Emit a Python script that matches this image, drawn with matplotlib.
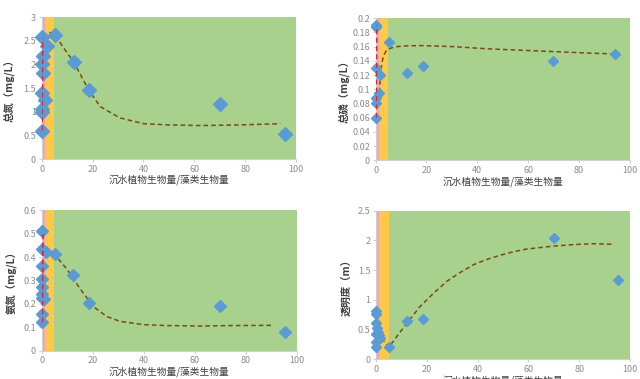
import matplotlib
matplotlib.use("Agg")
import matplotlib.pyplot as plt
from matplotlib.ticker import FuncFormatter

plt.rcParams['font.family'] = ['Noto Sans CJK SC', 'DejaVu Sans']

# colours of the zones and marks
PINK = '#F3A3B8'
ORANGE = '#FFC947'
GREEN = '#A9D18E'
BLUE = '#5B9BD5'
BROWN = '#7A4A14'
RED = '#E0262B'

xlab = '沉水植物生物量/藻类生物量'
zone_edges = [0, 1.2, 5, 100]

# total nitrogen
tn_x = [0, 2.2, 5.2, 0.4, 0.1, 0.4, 0.2, 1.4, 0.2, 0.1, 0, 12.6, 18.5, 70.2, 95.5]
tn_y = [2.58, 2.38, 2.63, 2.18, 2.01, 1.82, 1.39, 1.24, 1.05, 1.0, 0.6, 2.06, 1.46, 1.16, 0.54]
tn_red_x = [0.2, 0.25, 0.3, 0.35, 0.4]
tn_red_y = [0.6, 1.1, 1.6, 2.1, 2.55]
tn_fit_x = [3, 5.2, 8, 12.6, 18.5, 23, 30.8, 40, 49, 62, 75, 85, 93.7]
tn_fit_y = [2.68, 2.64, 2.4, 2.05, 1.46, 1.11, 0.87, 0.75, 0.725, 0.71, 0.72, 0.735, 0.75]

# total phosphorus
tp_x = [0, 0.1, 5.2, 0, 1.8, 1.4, 0.1, 0, 0, 12.5, 18.5, 69.6, 94.2]
tp_y = [0.1906, 0.187, 0.167, 0.1296, 0.1197, 0.0944, 0.087, 0.081, 0.06, 0.123, 0.133, 0.1394, 0.1498]
tp_red_x = [0.2, 0.25, 0.3, 0.35, 0.4]
tp_red_y = [0.06, 0.09, 0.12, 0.155, 0.19]
tp_fit_x = [1.3, 1.8, 2.4, 3.2, 4.3, 6, 8.3, 12, 17.4, 30.5, 43.6, 56.7, 69.9, 83, 93.4]
tp_fit_y = [0.085, 0.115, 0.137, 0.148, 0.155, 0.158, 0.16, 0.161, 0.1615, 0.16, 0.157, 0.155, 0.153, 0.151, 0.1498]

# ammonia nitrogen
nh_x = [0, 0, 1.6, 5.2, 0, 0.2, 0, 0, 0, 1.0, 0, 0, 12.2, 18.4, 70, 95.3]
nh_y = [0.511, 0.434, 0.42, 0.412, 0.361, 0.305, 0.271, 0.243, 0.223, 0.221, 0.156, 0.122, 0.325, 0.204, 0.192, 0.0815]
nh_red_x = [0.3, 0.35, 0.4, 0.5, 0.6]
nh_red_y = [0.12, 0.22, 0.32, 0.42, 0.51]
nh_fit_x = [1.6, 5.2, 9.8, 15, 20.3, 25.5, 30.7, 39.9, 49, 62, 75, 90.8]
nh_fit_y = [0.427, 0.41, 0.35, 0.266, 0.188, 0.146, 0.125, 0.111, 0.107, 0.105, 0.107, 0.108]

# transparency
sd_x = [0, 0.1, 0, 0.3, 0.6, 0, 1.0, 1.6, 0, 0, 5.1, 12.3, 18.4, 70.2, 95.4]
sd_y = [0.81, 0.77, 0.605, 0.52, 0.46, 0.43, 0.41, 0.35, 0.29, 0.2, 0.2, 0.64, 0.67, 2.04, 1.33]
sd_fit_x = [0.8, 2, 3.5, 5.1, 6.2, 12.1, 17.3, 22.6, 27.8, 33.1, 38.3, 43.6, 48.8, 54.1, 59.3, 64.6, 69.8, 77.7, 85.6, 93.4]
sd_fit_y = [0.47, 0.38, 0.28, 0.2, 0.27, 0.605, 0.886, 1.11, 1.31, 1.46, 1.59, 1.68, 1.75, 1.81, 1.855, 1.88, 1.905, 1.93, 1.945, 1.935]

panels = [
    dict(pos=[0.065, 0.58, 0.398, 0.375], x=tn_x, y=tn_y, rx=tn_red_x, ry=tn_red_y,
         fx=tn_fit_x, fy=tn_fit_y, ylim=3, step=0.5, ylabel='总氮（mg/L）', ms=7.5, lpad=6),
    dict(pos=[0.587, 0.577, 0.397, 0.375], x=tp_x, y=tp_y, rx=tp_red_x, ry=tp_red_y,
         fx=tp_fit_x, fy=tp_fit_y, ylim=0.2, step=0.02, ylabel='总磷（mg/L）', ms=5.5, lpad=2),
    dict(pos=[0.065, 0.075, 0.399, 0.37], x=nh_x, y=nh_y, rx=nh_red_x, ry=nh_red_y,
         fx=nh_fit_x, fy=nh_fit_y, ylim=0.6, step=0.1, ylabel='氨氮（mg/L）', ms=6, lpad=4),
    dict(pos=[0.5875, 0.052, 0.397, 0.392], x=sd_x, y=sd_y, rx=None, ry=None,
         fx=sd_fit_x, fy=sd_fit_y, ylim=2.5, step=0.5, ylabel='透明度（m）', ms=5.5, lpad=4),
]

fig = plt.figure(figsize=(6.4, 3.79), dpi=100)

for p in panels:
    ax = fig.add_axes(p['pos'])
    ax.axvspan(zone_edges[0], zone_edges[1], color=PINK, lw=0, zorder=0)
    ax.axvspan(zone_edges[1], zone_edges[2], color=ORANGE, lw=0, zorder=0)
    ax.axvspan(zone_edges[2], zone_edges[3], color=GREEN, lw=0, zorder=0)
    ax.plot(p['fx'], p['fy'], ls=(0, (3, 2)), color=BROWN, lw=1.1, zorder=2)
    ax.plot(p['x'], p['y'], 'D', color=BLUE, ms=p['ms'], mec=BLUE, zorder=3, clip_on=False)
    if p['rx'] is not None:
        ax.plot(p['rx'], p['ry'], ls=(0, (3, 2)), color=RED, lw=1.2, zorder=4)
    ax.set_xlim(0, 100)
    ax.set_ylim(0, p['ylim'])
    ax.set_xticks(range(0, 101, 20))
    n = int(round(p['ylim'] / p['step']))
    ax.set_yticks([i * p['step'] for i in range(n + 1)])
    ax.yaxis.set_major_formatter(FuncFormatter(lambda v, pos: '%g' % round(v, 3)))
    for s in ['top', 'right']:
        ax.spines[s].set_visible(False)
    for s in ['left', 'bottom']:
        ax.spines[s].set_color('#D0D0D0')
        ax.spines[s].set_linewidth(0.8)
    ax.tick_params(colors='#D0D0D0', labelcolor='#8C8C8C', labelsize=6.5, length=2.5,
                   width=0.8, pad=1.5)
    ax.set_ylabel(p['ylabel'], fontsize=7.5, color='#404040', fontweight='bold', labelpad=p['lpad'])
    ax.set_xlabel(xlab, fontsize=7, color='#404040', labelpad=0.5)

fig.savefig('out.png', dpi=100)
